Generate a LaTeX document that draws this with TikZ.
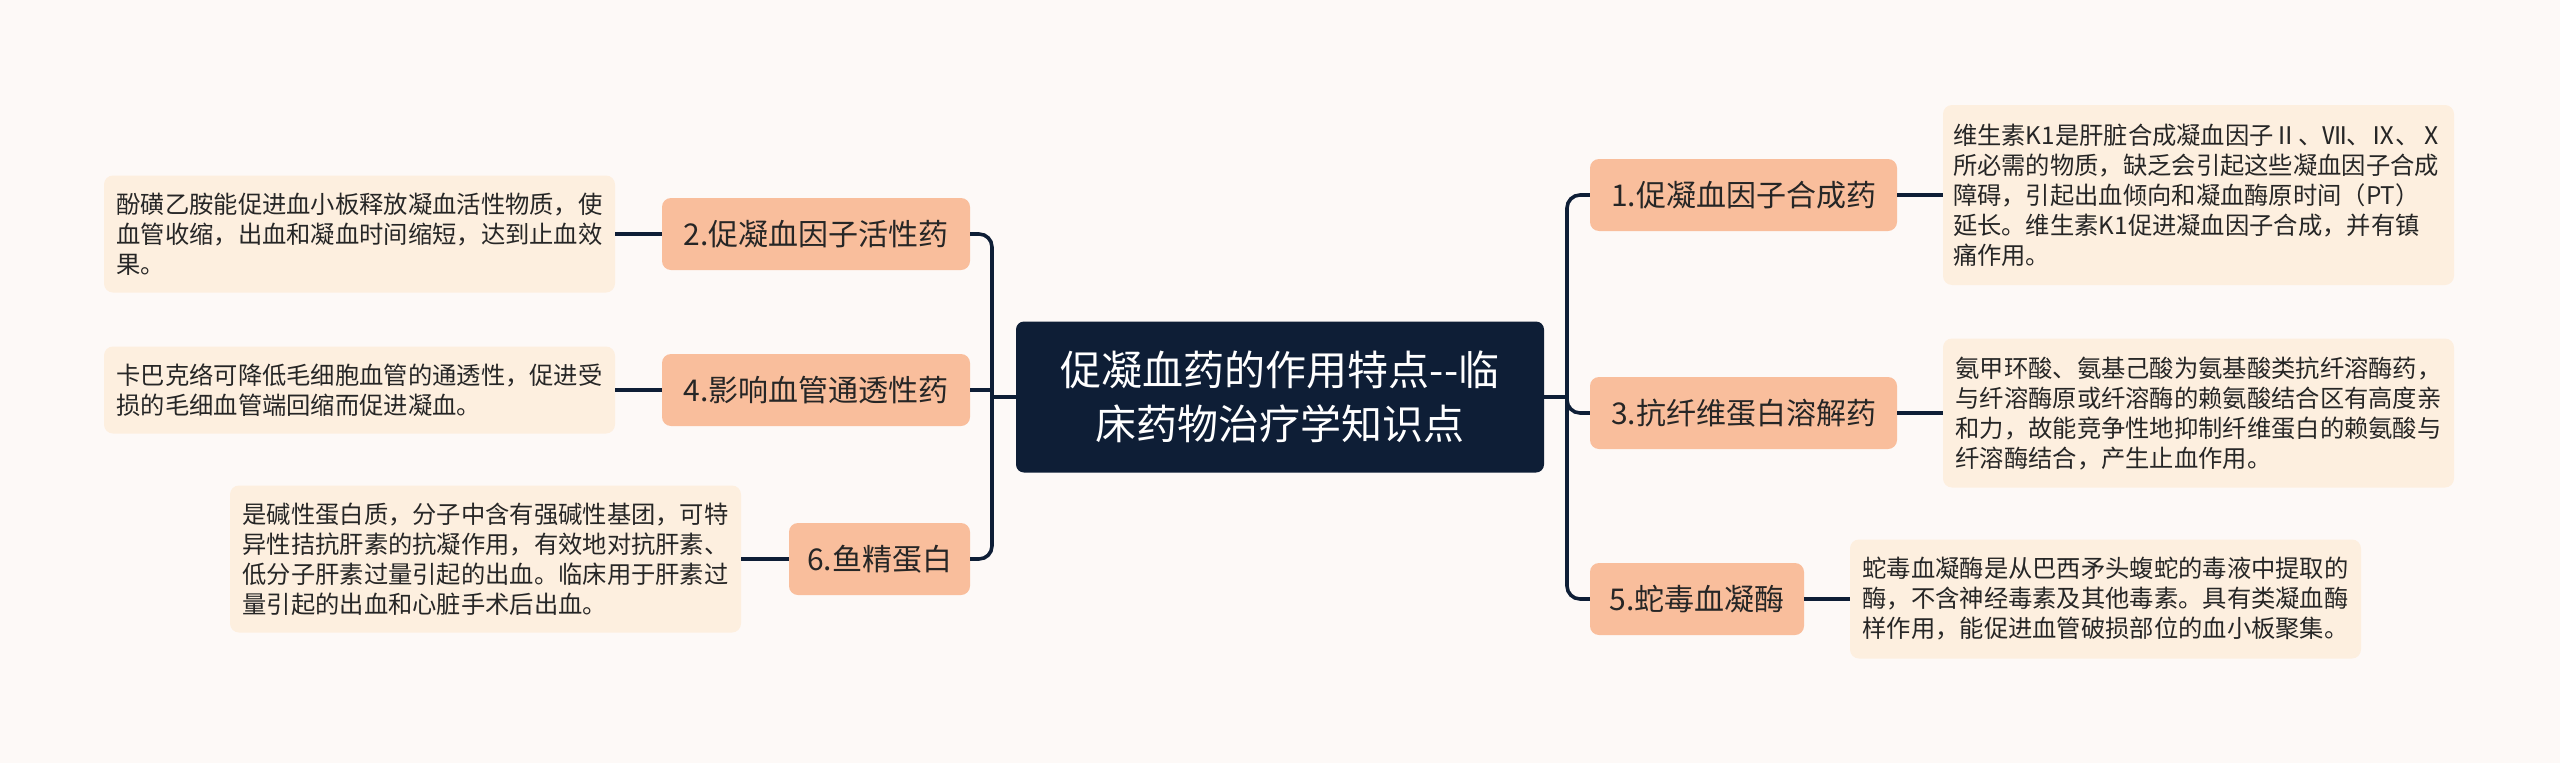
\documentclass[tikz,border=0pt]{standalone}
\usepackage{fontspec}
\setmainfont{Noto Sans CJK SC}
\definecolor{Cpaper}{HTML}{FDF9F7}
\definecolor{Cnavy}{HTML}{0E1E36}
\definecolor{Cpeach}{HTML}{F9BE9C}
\definecolor{Ccream}{HTML}{FDEFDF}
\definecolor{Cink}{HTML}{262626}
\tikzset{
	topic/.style={fill=Cnavy,text=white,rounded corners=8pt,align=center,
		font=\fontsize{41}{54}\selectfont,minimum width=528pt,minimum height=151pt},
	branchbox/.style={fill=Cpeach,text=Cink,rounded corners=9pt,
		font=\fontsize{30}{36}\selectfont,minimum height=72pt},
	leafbox/.style={fill=Ccream,text=Cink,rounded corners=9pt,align=left,
		font=\fontsize{24.3}{30}\selectfont,minimum width=511pt},
	link/.style={Cnavy,line width=3.6pt,rounded corners=13pt},
}
\begin{document}
\begin{tikzpicture}[x=1pt,y=-1pt]
	\fill[Cpaper] (0,0) rectangle (2560,763);
	\useasboundingbox (0,0) rectangle (2560,763);
	% centre
	\node[topic] (topic) at (1280,397) {促凝血药的作用特点{-}{-}临\\床药物治疗学知识点};
	\coordinate (lhub) at (992,397);
	\coordinate (rhub) at (1567,397);
	% left side
	\node[branchbox,minimum width=308pt] (b2) at (816,234) {2.促凝血因子活性药};
	\node[branchbox,minimum width=308pt] (b4) at (816,390) {4.影响血管通透性药};
	\node[branchbox,minimum width=181pt] (b6) at (879.5,559) {6.鱼精蛋白};
	\node[leafbox,minimum height=117pt] (l2) at (359.5,234) {酚磺乙胺能促进血小板释放凝血活性物质，使\\血管收缩，出血和凝血时间缩短，达到止血效\\果。};
	\node[leafbox,minimum height=87pt] (l4) at (359.5,390) {卡巴克络可降低毛细胞血管的通透性，促进受\\损的毛细血管端回缩而促进凝血。};
	\node[leafbox,minimum height=147pt] (l6) at (485.5,559) {是碱性蛋白质，分子中含有强碱性基团，可特\\异性拮抗肝素的抗凝作用，有效地对抗肝素、\\低分子肝素过量引起的出血。临床用于肝素过\\量引起的出血和心脏手术后出血。};
	% right side
	\node[branchbox,minimum width=307pt] (b1) at (1743.5,195) {1.促凝血因子合成药};
	\node[branchbox,minimum width=307pt] (b3) at (1743.5,413) {3.抗纤维蛋白溶解药};
	\node[branchbox,minimum width=214pt] (b5) at (1697,599) {5.蛇毒血凝酶};
	\node[leafbox,minimum height=180pt] (l1) at (2198.5,195) {维生素K1是肝脏合成凝血因子Ⅱ、Ⅶ、Ⅸ、Ⅹ\\所必需的物质，缺乏会引起这些凝血因子合成\\障碍，引起出血倾向和凝血酶原时间（PT）\\延长。维生素K1促进凝血因子合成，并有镇\\痛作用。};
	\node[leafbox,minimum height=149pt] (l3) at (2198.5,413) {氨甲环酸、氨基己酸为氨基酸类抗纤溶酶药，\\与纤溶酶原或纤溶酶的赖氨酸结合区有高度亲\\和力，故能竞争性地抑制纤维蛋白的赖氨酸与\\纤溶酶结合，产生止血作用。};
	\node[leafbox,minimum height=119pt] (l5) at (2105.5,599) {蛇毒血凝酶是从巴西矛头蝮蛇的毒液中提取的\\酶，不含神经毒素及其他毒素。具有类凝血酶\\样作用，能促进血管破损部位的血小板聚集。};
	% connectors
	\draw[link] (topic.west) -- (lhub);
	\draw[link] (b2.east) -| (lhub) |- (b6.east);
	\draw[link] (b4.east) -- (b4.east -| lhub);
	\draw[link] (topic.east) -- (rhub);
	\draw[link] (b1.west) -| (rhub) |- (b5.west);
	\draw[link] (b3.west) -| (rhub);
	\draw[link] (b2.west) -- (l2.east);
	\draw[link] (b4.west) -- (l4.east);
	\draw[link] (b6.west) -- (l6.east);
	\draw[link] (b1.east) -- (l1.west);
	\draw[link] (b3.east) -- (l3.west);
	\draw[link] (b5.east) -- (l5.west);
\end{tikzpicture}
\end{document}
